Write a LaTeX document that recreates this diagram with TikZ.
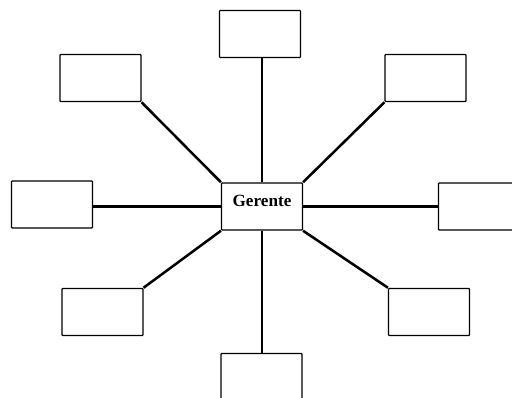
\documentclass[tikz,border=0pt]{standalone}
\usepackage{fontspec}
\setmainfont{Liberation Serif}
\usepackage{tikz}
\usetikzlibrary{shapes,arrows}

\begin{document}
\begin{tikzpicture}[x=0.25mm,y=-0.25mm,
  caja/.style={draw,rectangle,rounded corners=0.6pt,line width=0.9pt,
    minimum width=20.2mm,minimum height=11.8mm,inner sep=0pt,fill=white},
  rama/.style={line width=1.8pt}]
\clip (0,0) rectangle (512,398);

% jefe en el centro
\node[caja,font=\bfseries\fontsize{12.2}{14}\selectfont] (gerente) at (262,206.5) {\smash{Gerente}};

% cajas alrededor
\node[caja] (arriba) at (260,34) {};
\node[caja] (arribaIzq) at (100.5,78) {};
\node[caja] (arribaDer) at (425.5,78) {};
\node[caja] (izq) at (52,204.5) {};
\node[caja] (der) at (479,206.5) {};
\node[caja] (abajoIzq) at (102.5,312) {};
\node[caja] (abajoDer) at (429,312) {};
\node[caja] (abajo) at (261.5,377) {};

\draw[rama] (gerente.north) -- (gerente.north |- arriba.south);
\draw[rama] (arribaIzq.south east) -- (gerente.north west);
\draw[rama] (arribaDer.south west) -- (gerente.north east);
\draw[rama] (izq.east |- gerente.west) -- (gerente.west);
\draw[rama] (gerente.east) -- (der.west);
\draw[rama] (abajoIzq.north east) -- (gerente.south west);
\draw[rama] (abajoDer.north west) -- (gerente.south east);
\draw[rama] (gerente.south) -- (gerente.south |- abajo.north);

\end{tikzpicture}
\end{document}
